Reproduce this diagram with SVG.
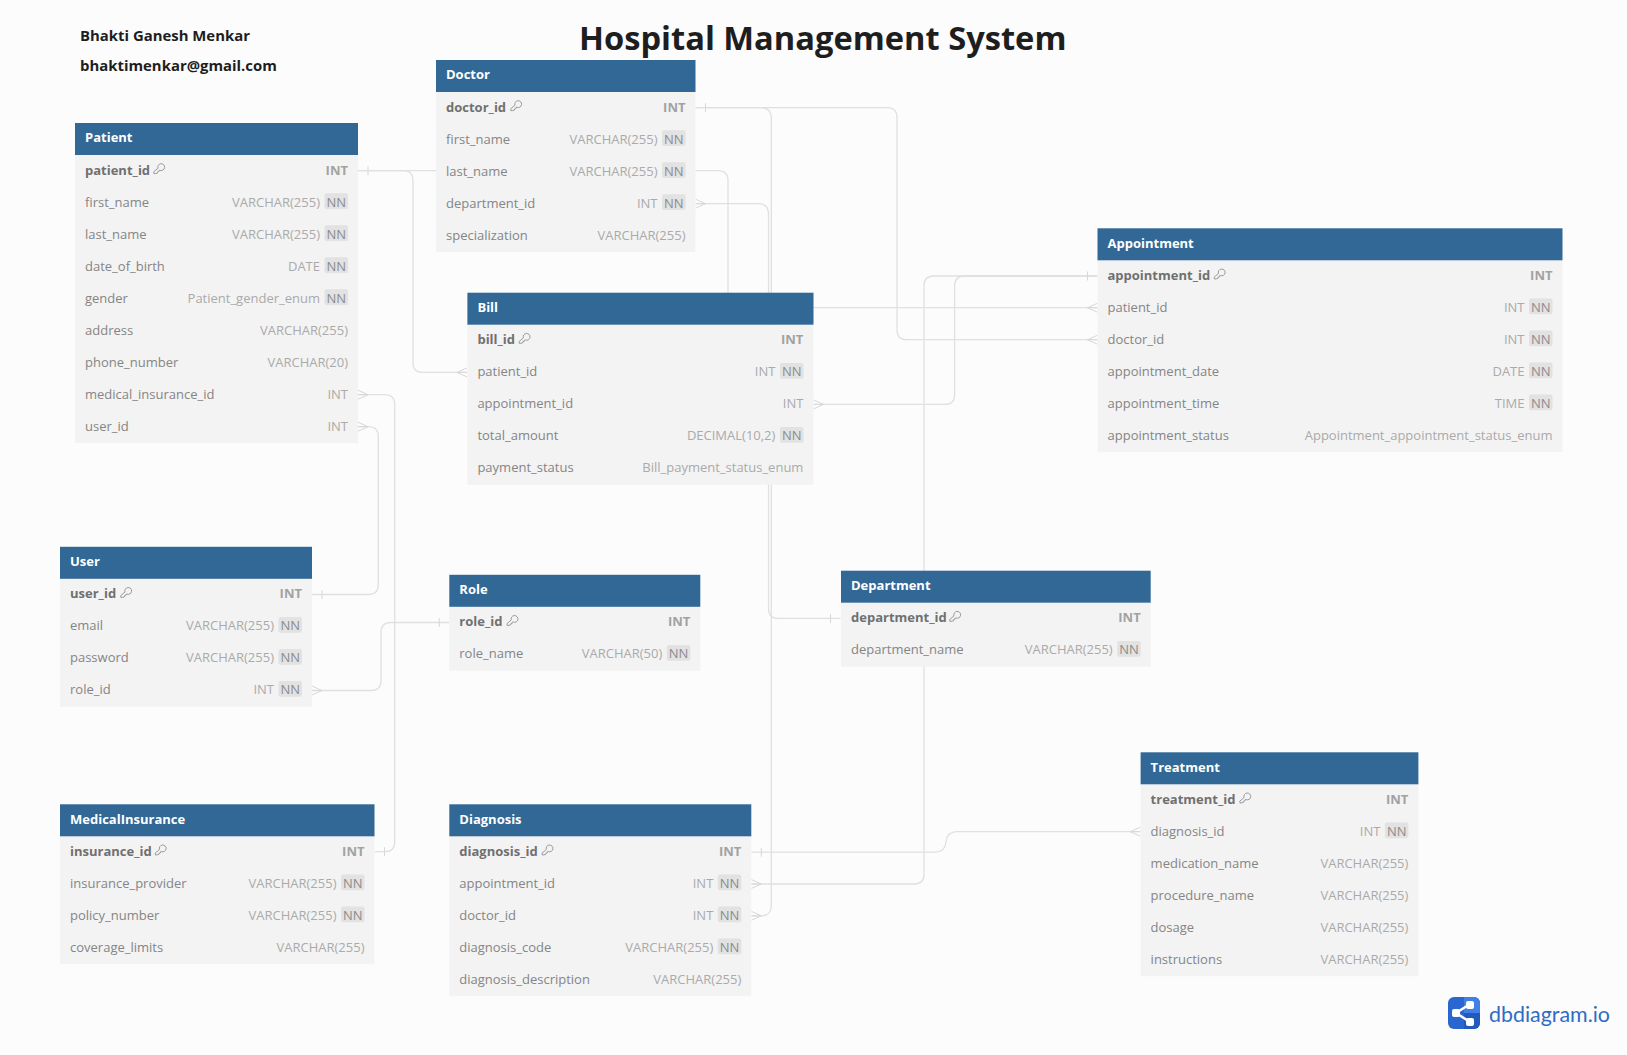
<svg xmlns="http://www.w3.org/2000/svg" xmlns:xlink="http://www.w3.org/1999/xlink" width="1627" height="1055" viewBox="0 0 1627 1055">
<style>
text{font-family:"Open Sans","Noto Sans","Liberation Sans",sans-serif}
.bg{fill:#fcfcfc}
.hd{fill:#316896}
.bd{fill:#f3f3f3}
.ht{fill:#fff;font-size:13px;font-weight:700;transform:translateY(.4px)}
.f{fill:#858585;font-size:13px;transform:translateY(.5px)}
.p{fill:#707070;font-size:13px;font-weight:700;transform:translateY(.5px)}
.t{fill:#aaa;font-size:13px;text-anchor:end;transform:translateY(.5px)}
.tp{fill:#a2a2a2;font-size:13px;font-weight:700;text-anchor:end;transform:translateY(.5px)}
.pill{fill:#e2e2e2}
.nn{fill:#8c8c8c;font-size:13px;text-anchor:middle;transform:translateY(.5px)}
.c{fill:none;stroke:#e0e0e0;stroke-width:1.3}
.m{fill:none;stroke:#d8d8d8;stroke-width:1}
.key{fill:none;stroke:#909090;stroke-width:.9}
.title{fill:#1e1e1e;font-size:32.65px;font-weight:700}
.auth{fill:#1e1e1e;font-size:14.9px;font-weight:700}
.logo{fill:#2f6cc4;font-family:"Lato","Open Sans",sans-serif;font-size:21.4px}
</style>
<defs>
<path id="k" class="key" d="M5 4.2a3.4 3.4 0 1 1 2 2.1l-1 .1-.2 1.3-1.3.2-.2 1.3-1.5.3-1.9.2-.2-1.9z"/>
<path id="one" class="m" d="M0 -4.5V4.5"/>
<path id="many" class="m" d="M0 -4.5L10 0L0 4.5M0 0H10"/>
<path id="manyL" class="m" d="M0 -4.5L-10 0L0 4.5M0 0H-10"/>
</defs>
<rect class="bg" width="1627" height="1055"/>
<g id="connectors">
<path class="c" d="M358 170.7H403Q413 170.7 413 180.7V362.4Q413 372.4 423 372.4H467"/>
<path class="c" d="M358 170.7H718Q728 170.7 728 180.7V297.7Q728 307.7 738 307.7H1097.5"/>
<path class="c" d="M695.5 107.7H887Q897 107.7 897 117.7V329.7Q897 339.7 907 339.7H1097.5"/>
<path class="c" d="M695.5 107.7H761Q771.3 107.7 771.3 117.7V905.8Q771.3 915.8 761 915.8H751.3"/>
<path class="c" d="M695.5 203.7H758.5Q768.5 203.7 768.5 213.7V608.4Q768.5 618.4 778.5 618.4H840.5"/>
<path class="c" d="M813.5 404.4H944.6Q954.6 404.4 954.6 394.4V286Q954.6 276 964.6 276H1097.5"/>
<path class="c" d="M751.3 884H914Q924 884 924 874V286Q924 276 934 276H1097.5"/>
<path class="c" d="M751.3 852.2H935Q945 852.2 946 842Q947 831.7 957 831.7H1140.3"/>
<path class="c" d="M358 394.7H384.7Q394.7 394.7 394.7 404.7V841.7Q394.7 851.7 384.7 851.7H374.5"/>
<path class="c" d="M358 426.7H368.3Q378.3 426.7 378.3 436.7V584.5Q378.3 594.5 368.3 594.5H312"/>
<path class="c" d="M312 690.5H371Q381 690.5 381 680.5V632.5Q381 622.5 391 622.5H449.3"/>
<use xlink:href="#one" x="368" y="170.7"/>
<use xlink:href="#manyL" x="467" y="372.4"/>
<use xlink:href="#manyL" x="1097.5" y="307.7"/>
<use xlink:href="#one" x="705.5" y="107.7"/>
<use xlink:href="#manyL" x="1097.5" y="339.7"/>
<use xlink:href="#many" x="751.3" y="915.8"/>
<use xlink:href="#many" x="695.5" y="203.7"/>
<use xlink:href="#one" x="830.5" y="618.4"/>
<use xlink:href="#many" x="813.5" y="404.4"/>
<use xlink:href="#one" x="1087.5" y="276"/>
<use xlink:href="#many" x="751.3" y="884"/>
<use xlink:href="#one" x="761.3" y="852.2"/>
<use xlink:href="#manyL" x="1140.3" y="831.7"/>
<use xlink:href="#many" x="358" y="394.7"/>
<use xlink:href="#many" x="358" y="426.7"/>
<use xlink:href="#one" x="384.5" y="851.7"/>
<use xlink:href="#one" x="322" y="594.5"/>
<use xlink:href="#many" x="312" y="690.5"/>
<use xlink:href="#one" x="439.3" y="622.5"/>
</g>
<g id="doctor" transform="translate(436,60)">
<rect class="bd" y="32" width="259.5" height="160"/><rect class="hd" width="259.5" height="32"/>
<text class="ht" x="10" y="19">Doctor</text>
<text class="p" x="10" y="51">doctor_id</text><use xlink:href="#k" x="74" y="41"/><text class="tp" x="249.5" y="51">INT</text>
<text class="f" x="10" y="83">first_name</text><text class="t" x="221.5" y="83">VARCHAR(255)</text><rect class="pill" x="226" y="70.3" width="23.5" height="15.7" rx="2"/><text class="nn" x="237.8" y="83">NN</text>
<text class="f" x="10" y="115">last_name</text><text class="t" x="221.5" y="115">VARCHAR(255)</text><rect class="pill" x="226" y="102.3" width="23.5" height="15.7" rx="2"/><text class="nn" x="237.8" y="115">NN</text>
<text class="f" x="10" y="147">department_id</text><text class="t" x="221.5" y="147">INT</text><rect class="pill" x="226" y="134.3" width="23.5" height="15.7" rx="2"/><text class="nn" x="237.8" y="147">NN</text>
<text class="f" x="10" y="179">specialization</text><text class="t" x="249.5" y="179">VARCHAR(255)</text>
</g>
<g id="patient" transform="translate(75,123)">
<rect class="bd" y="32" width="283" height="288"/><rect class="hd" width="283" height="32"/>
<text class="ht" x="10" y="19">Patient</text>
<text class="p" x="10" y="51">patient_id</text><use xlink:href="#k" x="78" y="41"/><text class="tp" x="273" y="51">INT</text>
<text class="f" x="10" y="83">first_name</text><text class="t" x="245" y="83">VARCHAR(255)</text><rect class="pill" x="249.5" y="70.3" width="23.5" height="15.7" rx="2"/><text class="nn" x="261.3" y="83">NN</text>
<text class="f" x="10" y="115">last_name</text><text class="t" x="245" y="115">VARCHAR(255)</text><rect class="pill" x="249.5" y="102.3" width="23.5" height="15.7" rx="2"/><text class="nn" x="261.3" y="115">NN</text>
<text class="f" x="10" y="147">date_of_birth</text><text class="t" x="245" y="147">DATE</text><rect class="pill" x="249.5" y="134.3" width="23.5" height="15.7" rx="2"/><text class="nn" x="261.3" y="147">NN</text>
<text class="f" x="10" y="179">gender</text><text class="t" x="245" y="179">Patient_gender_enum</text><rect class="pill" x="249.5" y="166.3" width="23.5" height="15.7" rx="2"/><text class="nn" x="261.3" y="179">NN</text>
<text class="f" x="10" y="211">address</text><text class="t" x="273" y="211">VARCHAR(255)</text>
<text class="f" x="10" y="243">phone_number</text><text class="t" x="273" y="243">VARCHAR(20)</text>
<text class="f" x="10" y="275">medical_insurance_id</text><text class="t" x="273" y="275">INT</text>
<text class="f" x="10" y="307">user_id</text><text class="t" x="273" y="307">INT</text>
</g>
<g id="bill" transform="translate(467.4,292.7)">
<rect class="bd" y="32" width="346.1" height="160"/><rect class="hd" width="346.1" height="32"/>
<text class="ht" x="10" y="19">Bill</text>
<text class="p" x="10" y="51">bill_id</text><use xlink:href="#k" x="51" y="41"/><text class="tp" x="336" y="51">INT</text>
<text class="f" x="10" y="83">patient_id</text><text class="t" x="308" y="83">INT</text><rect class="pill" x="312.6" y="70.3" width="23.5" height="15.7" rx="2"/><text class="nn" x="324.4" y="83">NN</text>
<text class="f" x="10" y="115">appointment_id</text><text class="t" x="336" y="115">INT</text>
<text class="f" x="10" y="147">total_amount</text><text class="t" x="308" y="147">DECIMAL(10,2)</text><rect class="pill" x="312.6" y="134.3" width="23.5" height="15.7" rx="2"/><text class="nn" x="324.4" y="147">NN</text>
<text class="f" x="10" y="179">payment_status</text><text class="t" x="336" y="179">Bill_payment_status_enum</text>
</g>
<g id="appointment" transform="translate(1097.5,228.3)">
<rect class="bd" y="32" width="465" height="192"/><rect class="hd" width="465" height="32"/>
<text class="ht" x="10" y="19">Appointment</text>
<text class="p" x="10" y="51">appointment_id</text><use xlink:href="#k" x="116" y="41"/><text class="tp" x="455" y="51">INT</text>
<text class="f" x="10" y="83">patient_id</text><text class="t" x="427" y="83">INT</text><rect class="pill" x="431.5" y="70.3" width="23.5" height="15.7" rx="2"/><text class="nn" x="443.3" y="83">NN</text>
<text class="f" x="10" y="115">doctor_id</text><text class="t" x="427" y="115">INT</text><rect class="pill" x="431.5" y="102.3" width="23.5" height="15.7" rx="2"/><text class="nn" x="443.3" y="115">NN</text>
<text class="f" x="10" y="147">appointment_date</text><text class="t" x="427" y="147">DATE</text><rect class="pill" x="431.5" y="134.3" width="23.5" height="15.7" rx="2"/><text class="nn" x="443.3" y="147">NN</text>
<text class="f" x="10" y="179">appointment_time</text><text class="t" x="427" y="179">TIME</text><rect class="pill" x="431.5" y="166.3" width="23.5" height="15.7" rx="2"/><text class="nn" x="443.3" y="179">NN</text>
<text class="f" x="10" y="211">appointment_status</text><text class="t" x="455" y="211">Appointment_appointment_status_enum</text>
</g>
<g id="user" transform="translate(60,546.8)">
<rect class="bd" y="32" width="252" height="128"/><rect class="hd" width="252" height="32"/>
<text class="ht" x="10" y="19">User</text>
<text class="p" x="10" y="51">user_id</text><use xlink:href="#k" x="60" y="41"/><text class="tp" x="242" y="51">INT</text>
<text class="f" x="10" y="83">email</text><text class="t" x="214" y="83">VARCHAR(255)</text><rect class="pill" x="218.5" y="70.3" width="23.5" height="15.7" rx="2"/><text class="nn" x="230.3" y="83">NN</text>
<text class="f" x="10" y="115">password</text><text class="t" x="214" y="115">VARCHAR(255)</text><rect class="pill" x="218.5" y="102.3" width="23.5" height="15.7" rx="2"/><text class="nn" x="230.3" y="115">NN</text>
<text class="f" x="10" y="147">role_id</text><text class="t" x="214" y="147">INT</text><rect class="pill" x="218.5" y="134.3" width="23.5" height="15.7" rx="2"/><text class="nn" x="230.3" y="147">NN</text>
</g>
<g id="role" transform="translate(449.3,574.8)">
<rect class="bd" y="32" width="251" height="64"/><rect class="hd" width="251" height="32"/>
<text class="ht" x="10" y="19">Role</text>
<text class="p" x="10" y="51">role_id</text><use xlink:href="#k" x="57" y="41"/><text class="tp" x="241" y="51">INT</text>
<text class="f" x="10" y="83">role_name</text><text class="t" x="213" y="83">VARCHAR(50)</text><rect class="pill" x="217.5" y="70.3" width="23.5" height="15.7" rx="2"/><text class="nn" x="229.3" y="83">NN</text>
</g>
<g id="department" transform="translate(841,570.7)">
<rect class="bd" y="32" width="309.7" height="64"/><rect class="hd" width="309.7" height="32"/>
<text class="ht" x="10" y="19">Department</text>
<text class="p" x="10" y="51">department_id</text><use xlink:href="#k" x="108" y="41"/><text class="tp" x="299.7" y="51">INT</text>
<text class="f" x="10" y="83">department_name</text><text class="t" x="271.7" y="83">VARCHAR(255)</text><rect class="pill" x="276.2" y="70.3" width="23.5" height="15.7" rx="2"/><text class="nn" x="288" y="83">NN</text>
</g>
<g id="medicalinsurance" transform="translate(60,804.3)">
<rect class="bd" y="32" width="314.5" height="128"/><rect class="hd" width="314.5" height="32"/>
<text class="ht" x="10" y="19">MedicalInsurance</text>
<text class="p" x="10" y="51">insurance_id</text><use xlink:href="#k" x="94.5" y="41"/><text class="tp" x="304.5" y="51">INT</text>
<text class="f" x="10" y="83">insurance_provider</text><text class="t" x="276.5" y="83">VARCHAR(255)</text><rect class="pill" x="281" y="70.3" width="23.5" height="15.7" rx="2"/><text class="nn" x="292.8" y="83">NN</text>
<text class="f" x="10" y="115">policy_number</text><text class="t" x="276.5" y="115">VARCHAR(255)</text><rect class="pill" x="281" y="102.3" width="23.5" height="15.7" rx="2"/><text class="nn" x="292.8" y="115">NN</text>
<text class="f" x="10" y="147">coverage_limits</text><text class="t" x="304.5" y="147">VARCHAR(255)</text>
</g>
<g id="diagnosis" transform="translate(449.3,804.3)">
<rect class="bd" y="32" width="302" height="160"/><rect class="hd" width="302" height="32"/>
<text class="ht" x="10" y="19">Diagnosis</text>
<text class="p" x="10" y="51">diagnosis_id</text><use xlink:href="#k" x="92" y="41"/><text class="tp" x="292" y="51">INT</text>
<text class="f" x="10" y="83">appointment_id</text><text class="t" x="264" y="83">INT</text><rect class="pill" x="268.5" y="70.3" width="23.5" height="15.7" rx="2"/><text class="nn" x="280.3" y="83">NN</text>
<text class="f" x="10" y="115">doctor_id</text><text class="t" x="264" y="115">INT</text><rect class="pill" x="268.5" y="102.3" width="23.5" height="15.7" rx="2"/><text class="nn" x="280.3" y="115">NN</text>
<text class="f" x="10" y="147">diagnosis_code</text><text class="t" x="264" y="147">VARCHAR(255)</text><rect class="pill" x="268.5" y="134.3" width="23.5" height="15.7" rx="2"/><text class="nn" x="280.3" y="147">NN</text>
<text class="f" x="10" y="179">diagnosis_description</text><text class="t" x="292" y="179">VARCHAR(255)</text>
</g>
<g id="treatment" transform="translate(1140.6,752.3)">
<rect class="bd" y="32" width="277.8" height="192"/><rect class="hd" width="277.8" height="32"/>
<text class="ht" x="10" y="19">Treatment</text>
<text class="p" x="10" y="51">treatment_id</text><use xlink:href="#k" x="98.5" y="41"/><text class="tp" x="267.8" y="51">INT</text>
<text class="f" x="10" y="83">diagnosis_id</text><text class="t" x="239.8" y="83">INT</text><rect class="pill" x="244.3" y="70.3" width="23.5" height="15.7" rx="2"/><text class="nn" x="256.1" y="83">NN</text>
<text class="f" x="10" y="115">medication_name</text><text class="t" x="267.8" y="115">VARCHAR(255)</text>
<text class="f" x="10" y="147">procedure_name</text><text class="t" x="267.8" y="147">VARCHAR(255)</text>
<text class="f" x="10" y="179">dosage</text><text class="t" x="267.8" y="179">VARCHAR(255)</text>
<text class="f" x="10" y="211">instructions</text><text class="t" x="267.8" y="211">VARCHAR(255)</text>
</g>
<text class="title" x="579" y="50">Hospital Management System</text>
<text class="auth" x="80" y="41">Bhakti Ganesh Menkar</text>
<text class="auth" x="80" y="71">bhaktimenkar@gmail.com</text>
<g id="logo">
<rect x="1448" y="997" width="32" height="32" rx="6" fill="#2a66d0"/>
<path d="M1464 997H1474a6 6 0 0 1 6 6V1013H1464z" fill="#3f7fe6"/>
<path d="M1464 1013H1480V1023a6 6 0 0 1-6 6H1464z" fill="#2359bd"/>
<path d="M1456 1013L1470 1004M1456 1013L1470 1022" stroke="#fff" stroke-width="2.5" fill="none"/>
<rect x="1452" y="1009" width="8" height="8" rx="2" fill="#fff"/>
<rect x="1466" y="1001" width="8" height="8" rx="2" fill="#fff"/>
<rect x="1466" y="1018" width="8" height="8" rx="2" fill="#fff"/>
<text class="logo" x="1489" y="1022">dbdiagram.io</text>
</g>
</svg>
